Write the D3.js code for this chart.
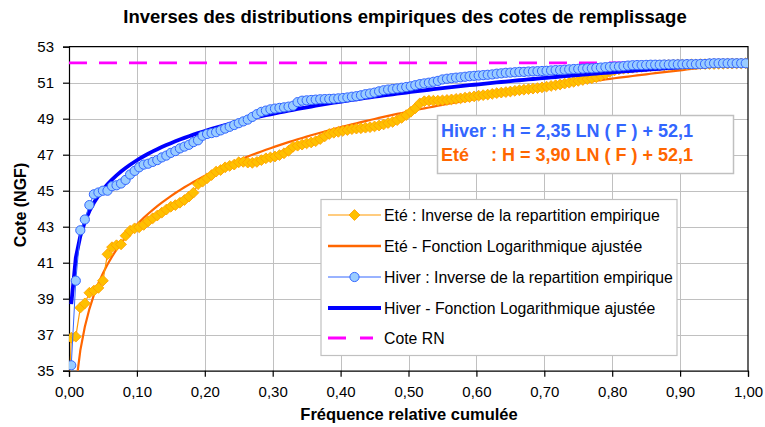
<!DOCTYPE html>
<html lang="fr">
<head>
<meta charset="utf-8">
<script src="https://cdn.jsdelivr.net/npm/d3@7"></script>
<style>
  html, body { margin: 0; padding: 0; background: #fff; }
  svg { display: block; font-family: Arial, "Liberation Sans", sans-serif; }
</style>
</head>
<body>
<svg id="chart" width="765" height="427"></svg>
<script>
// Axes
const xTicks = [0, 0.1, 0.2, 0.3, 0.4, 0.5, 0.6, 0.7, 0.8, 0.9, 1.0];
const xTickLabels = ["0,00", "0,10", "0,20", "0,30", "0,40", "0,50", "0,60", "0,70", "0,80", "0,90", "1,00"];
const yTicks = [35, 37, 39, 41, 43, 45, 47, 49, 51, 53];
const yTickLabels = ["35", "37", "39", "41", "43", "45", "47", "49", "51", "53"];

// Cotes classées (NGF), fréquence de Hazen (i + 0.5) / n
const hiverCote = [
  35.3, 40.0, 42.8, 43.4, 44.2, 44.8, 44.9, 45.0, 45.0, 45.25,
  45.3, 45.4, 45.6, 45.9, 46.1, 46.3, 46.45, 46.5, 46.6, 46.7,
  46.85, 46.95, 47.1, 47.2, 47.35, 47.45, 47.55, 47.7, 47.8, 48.05,
  48.15, 48.2, 48.25, 48.35, 48.45, 48.55, 48.65, 48.75, 48.85, 48.95,
  49.1, 49.25, 49.38, 49.45, 49.52, 49.56, 49.6, 49.63, 49.67, 49.72,
  49.92, 50.0, 50.02, 50.04, 50.06, 50.08, 50.09, 50.1, 50.11, 50.13,
  50.15, 50.18, 50.22, 50.25, 50.3, 50.36, 50.4, 50.45, 50.52, 50.58,
  50.62, 50.65, 50.68, 50.72, 50.76, 50.8, 50.86, 50.92, 50.96, 51.0,
  51.05, 51.1, 51.18, 51.22, 51.25, 51.28, 51.3, 51.33, 51.36, 51.38,
  51.4, 51.42, 51.44, 51.46, 51.5, 51.52, 51.55, 51.56, 51.58, 51.6,
  51.6, 51.62, 51.63, 51.64, 51.65, 51.66, 51.68, 51.7, 51.7, 51.72,
  51.74, 51.76, 51.77, 51.78, 51.8, 51.8, 51.82, 51.84, 51.86, 51.88,
  51.9, 51.9, 51.92, 51.95, 51.97, 51.98, 51.98, 51.99, 52.0, 52.0,
  52.0, 52.01, 52.01, 52.02, 52.02, 52.02, 52.03, 52.03, 52.03, 52.04,
  52.04, 52.07, 52.08, 52.08, 52.08, 52.08, 52.08, 52.08, 52.08, 52.08
];

// Eté : le premier point (F = 0) est sous l'axe
const eteCoteInitiale = 33.5;
const eteCote = [
  36.83, 36.89, 38.5, 38.74, 39.33, 39.45, 39.6, 40.0, 41.47, 41.86,
  41.97, 42.02, 42.5, 42.78, 42.91, 42.97, 43.1, 43.3, 43.47, 43.62,
  43.78, 43.95, 44.11, 44.2, 44.33, 44.48, 44.67, 44.89, 45.36, 45.5,
  45.69, 45.87, 46.06, 46.15, 46.3, 46.38, 46.45, 46.58, 46.6, 46.56,
  46.55, 46.6, 46.7, 46.8, 46.85, 46.9, 46.98, 47.08, 47.22, 47.44,
  47.5, 47.56, 47.63, 47.68, 47.75, 47.87, 48.02, 48.15, 48.22, 48.27,
  48.32, 48.37, 48.42, 48.45, 48.47, 48.5, 48.53, 48.57, 48.62, 48.68,
  48.76, 48.82, 48.92, 49.05, 49.2, 49.38, 49.58, 49.85, 49.97, 50.0,
  50.0, 50.0, 50.02, 50.04, 50.07, 50.1, 50.13, 50.17, 50.2, 50.24,
  50.28, 50.31, 50.34, 50.38, 50.42, 50.45, 50.48, 50.51, 50.55, 50.58,
  50.61, 50.64, 50.67, 50.7, 50.74, 50.78, 50.82, 50.86, 50.9, 50.95,
  51.0, 51.05, 51.1, 51.15, 51.2, 51.24, 51.3, 51.38, 51.48, 51.6,
  51.68, 51.74, 51.78, 51.8, 51.83, 51.86, 51.88, 51.9, 51.92, 51.94,
  51.96, 51.97, 51.98, 51.99, 52.0, 52.0, 52.01, 52.02, 52.02, 52.03,
  52.03, 52.04, 52.04, 52.05, 52.05, 52.06, 52.06, 52.07, 52.07, 52.08
];

// Ajustements H = a LN(F) + b
const penteHiver = 2.35;
const penteEte = 3.90;
const origine = 52.1;
const coteRN = 52.1;

const legendLabels = [
  "Eté : Inverse de la repartition empirique",
  "Eté - Fonction Logarithmique ajustée",
  "Hiver : Inverse de la repartition empirique",
  "Hiver - Fonction Logarithmique ajustée",
  "Cote RN"
];

// ---------------------------------------------------------------
const svg = d3.select("#chart");
const plot = { left: 69, right: 748, top: 46.7, bottom: 370.7 };

const x = d3.scaleLinear().domain([0, 1]).range([plot.left, plot.right]);
const y = d3.scaleLinear().domain([35, 53]).range([plot.bottom, plot.top]);

const n = hiverCote.length;
const freq = d3.range(n).map(i => (i + 0.5) / n);

const hiverPts = hiverCote.map((v, i) => ({ f: freq[i], v }));
const etePts = [{ f: 0, v: eteCoteInitiale }].concat(eteCote.map((v, i) => ({ f: freq[i], v })));
const hiverFit = freq.map(f => ({ f, v: penteHiver * Math.log(f) + origine }));
const eteFit = freq.map(f => ({ f, v: penteEte * Math.log(f) + origine }));

svg.append("defs").append("clipPath").attr("id", "clip")
  .append("rect")
  .attr("x", plot.left).attr("y", plot.top)
  .attr("width", plot.right - plot.left).attr("height", plot.bottom - plot.top);

// grid
const grid = svg.append("g").attr("stroke", "#c0c0c0").attr("stroke-width", 1);
grid.selectAll(".gx").data(xTicks.slice(1, -1)).join("line")
  .attr("x1", d => Math.round(x(d)) + 0.5).attr("x2", d => Math.round(x(d)) + 0.5)
  .attr("y1", plot.top).attr("y2", plot.bottom);
grid.selectAll(".gy").data(yTicks.slice(1, -1)).join("line")
  .attr("x1", plot.left).attr("x2", plot.right)
  .attr("y1", d => Math.round(y(d)) + 0.5).attr("y2", d => Math.round(y(d)) + 0.5);

// frame (top/right)
svg.append("path")
  .attr("d", `M${plot.left},${plot.top}H${plot.right}V${plot.bottom}`)
  .attr("fill", "none").attr("stroke", "#000").attr("stroke-width", 1.2);

// axes
const yAxis = d3.axisLeft(y).tickValues(yTicks).tickSize(6).tickPadding(9)
  .tickFormat((d, i) => yTickLabels[i]);
const xAxis = d3.axisBottom(x).tickValues(xTicks).tickSize(6).tickPadding(10)
  .tickFormat((d, i) => xTickLabels[i]);

const gy = svg.append("g").attr("transform", `translate(${plot.left},0)`).call(yAxis);
const gx = svg.append("g").attr("transform", `translate(0,${plot.bottom})`).call(xAxis);
[gx, gy].forEach(g => {
  g.selectAll("path, line").attr("stroke", "#000").attr("stroke-width", 1.2);
  g.selectAll("text").attr("font-size", 15).attr("fill", "#000")
    .attr("font-family", "Arial, 'Liberation Sans', sans-serif");
});

// series
const line = d3.line().x(d => x(d.f)).y(d => y(d.v));
const series = svg.append("g").attr("clip-path", "url(#clip)");

series.append("path").datum([{ f: 0, v: coteRN }, { f: 1, v: coteRN }])
  .attr("d", line).attr("fill", "none")
  .attr("stroke", "#ff00ff").attr("stroke-width", 2.8).attr("stroke-dasharray", "18,12");

series.append("path").datum(eteFit).attr("d", line).attr("fill", "none")
  .attr("stroke", "#ff6600").attr("stroke-width", 2.2);

series.append("path").datum(etePts).attr("d", line).attr("fill", "none")
  .attr("stroke", "#ff9900").attr("stroke-width", 1.2);

const diamond = s => `M0,${-s}L${s},0L0,${s}L${-s},0Z`;
series.selectAll(".ete").data(etePts).join("path")
  .attr("transform", d => `translate(${x(d.f)},${y(d.v)})`)
  .attr("d", diamond(5.4))
  .attr("fill", "#ffc000").attr("stroke", "#ffa200").attr("stroke-width", 0.9);

series.append("path").datum(hiverFit).attr("d", line).attr("fill", "none")
  .attr("stroke", "#0000ff").attr("stroke-width", 3.8);

series.append("path").datum(hiverPts).attr("d", line).attr("fill", "none")
  .attr("stroke", "#3366ff").attr("stroke-width", 1);

series.selectAll(".hiver").data(hiverPts).join("circle")
  .attr("cx", d => x(d.f)).attr("cy", d => y(d.v)).attr("r", 4.6)
  .attr("fill", "#99ccff").attr("stroke", "#3366ff").attr("stroke-width", 1);

// titles
svg.append("text").attr("x", 405).attr("y", 23).attr("text-anchor", "middle")
  .attr("font-size", 18.5).attr("font-weight", "bold")
  .text("Inverses des distributions empiriques des cotes de remplissage");
svg.append("text").attr("x", 409).attr("y", 420).attr("text-anchor", "middle")
  .attr("font-size", 16.5).attr("font-weight", "bold")
  .text("Fréquence relative cumulée");
svg.append("text").attr("transform", "translate(26,205) rotate(-90)").attr("text-anchor", "middle")
  .attr("font-size", 16).attr("font-weight", "bold")
  .text("Cote (NGF)");

// equation box
const eq = svg.append("g");
eq.append("rect").attr("x", 437.5).attr("y", 115.5).attr("width", 296).attr("height", 58)
  .attr("fill", "#fff").attr("stroke", "#c0c0c0").attr("stroke-width", 1.5);
const eqH = eq.append("text").attr("x", 441).attr("y", 136.5)
  .attr("font-size", 18).attr("font-weight", "bold").attr("fill", "#3366ff")
  .text(`Hiver : H = ${penteHiver.toFixed(2).replace(".", ",")} LN ( F ) + ${String(origine).replace(".", ",")}`);
eq.append("text").attr("x", 441).attr("y", 160.5)
  .attr("font-size", 18).attr("font-weight", "bold").attr("fill", "#ff6600").text("Eté");
const colonX = 441 + eqH.node().getSubStringLength(0, 6);
eq.append("text").attr("x", colonX).attr("y", 160.5)
  .attr("font-size", 18).attr("font-weight", "bold").attr("fill", "#ff6600")
  .text(`: H = ${penteEte.toFixed(2).replace(".", ",")} LN ( F ) + ${String(origine).replace(".", ",")}`);

// legend
const lg = svg.append("g");
lg.append("rect").attr("x", 321).attr("y", 199.5).attr("width", 356).attr("height", 156)
  .attr("fill", "#fff").attr("stroke", "#c0c0c0").attr("stroke-width", 1.2);
const rowY = [215, 246, 277, 308, 338];
const sx0 = 328, sx1 = 381;
// Eté empirique
lg.append("line").attr("x1", sx0).attr("x2", sx1).attr("y1", rowY[0]).attr("y2", rowY[0])
  .attr("stroke", "#ff9900").attr("stroke-width", 1.2);
lg.append("path").attr("transform", `translate(${(sx0 + sx1) / 2},${rowY[0]})`).attr("d", diamond(5.4))
  .attr("fill", "#ffc000").attr("stroke", "#ffa200").attr("stroke-width", 0.9);
// Eté ajustée
lg.append("line").attr("x1", sx0).attr("x2", sx1).attr("y1", rowY[1]).attr("y2", rowY[1])
  .attr("stroke", "#ff6600").attr("stroke-width", 2.5);
// Hiver empirique
lg.append("line").attr("x1", sx0).attr("x2", sx1).attr("y1", rowY[2]).attr("y2", rowY[2])
  .attr("stroke", "#3366ff").attr("stroke-width", 1);
lg.append("circle").attr("cx", (sx0 + sx1) / 2).attr("cy", rowY[2]).attr("r", 4.6)
  .attr("fill", "#99ccff").attr("stroke", "#3366ff").attr("stroke-width", 1);
// Hiver ajustée
lg.append("line").attr("x1", sx0).attr("x2", sx1).attr("y1", rowY[3]).attr("y2", rowY[3])
  .attr("stroke", "#0000ff").attr("stroke-width", 3.8);
// Cote RN
lg.append("line").attr("x1", sx0).attr("x2", sx1 - 8).attr("y1", rowY[4]).attr("y2", rowY[4])
  .attr("stroke", "#ff00ff").attr("stroke-width", 2.8).attr("stroke-dasharray", "18,14");

lg.selectAll(".lt").data(legendLabels).join("text")
  .attr("x", 384).attr("y", (d, i) => rowY[i] + 5.5)
  .attr("font-size", 15.8).attr("fill", "#000").text(d => d);
</script>
</body>
</html>
